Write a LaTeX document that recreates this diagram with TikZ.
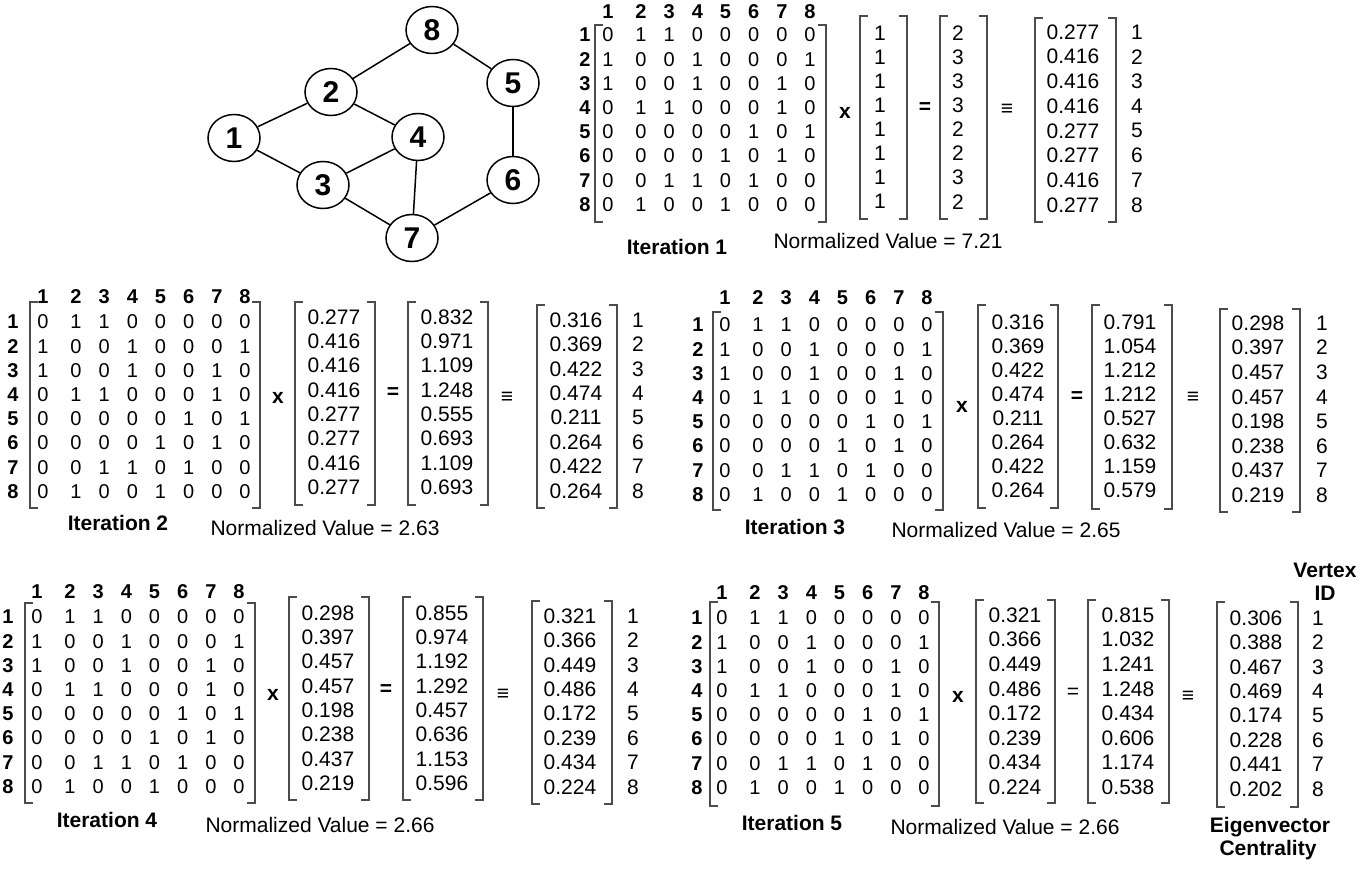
\documentclass[tikz,border=0pt]{standalone}
\usepackage{fontspec}
\setmainfont{Liberation Sans}
\usetikzlibrary{shapes.geometric}
\tikzset{
  mt/.style={inner sep=0pt, font=\fontsize{20}{23}\selectfont},
  vt/.style={inner sep=0pt, font=\fontsize{21}{24}\selectfont},
  hd/.style={inner sep=0pt, font=\fontsize{20}{23}\selectfont\bfseries},
  lbl/.style={inner sep=0pt, font=\fontsize{21}{24}\selectfont\bfseries},
  nv/.style={inner sep=0pt, font=\fontsize{21}{24}\selectfont},
  op/.style={inner sep=0pt, font=\fontsize{21}{24}\selectfont\bfseries},
  opr/.style={inner sep=0pt, font=\fontsize{21}{24}\selectfont},
  br/.style={draw=black!70, line width=1.4pt},
  vert/.style={ellipse, draw, line width=1.5pt, minimum width=52pt, minimum height=47pt, inner sep=0pt, font=\fontsize{30}{32}\selectfont\bfseries},
  gedge/.style={line width=1.5pt}
}
\newcommand\brk[4]{%
  \draw[br] (#1+8,#3) -- (#1,#3) -- (#1,#4) -- (#1+8,#4);
  \draw[br] (#2-8,#3) -- (#2,#3) -- (#2,#4) -- (#2-8,#4);}
\newcommand\adjm[9]{%
  \foreach \ci in {1,...,8}{%
    \pgfmathsetmacro\xx{#3+ifthenelse(\ci==1,0,33+(\ci-2)*28.17)}%
    \node[hd] (#1-h\ci) at (\xx,#4) {\ci};}%
  \foreach \rv [count=\ri] in {{0,1,1,0,0,0,0,0},{1,0,0,1,0,0,0,1},{1,0,0,1,0,0,1,0},{0,1,1,0,0,0,1,0},{0,0,0,0,0,1,0,1},{0,0,0,0,1,0,1,0},{0,0,1,1,0,1,0,0},{0,1,0,0,1,0,0,0}}{%
    \pgfmathsetmacro\yy{#5+(\ri-1)*24.2}%
    \node[hd] (#1-r\ri) at (#2,\yy) {\ri};
    \foreach \v [count=\ci] in \rv {%
      \pgfmathsetmacro\xx{#3+ifthenelse(\ci==1,0,33+(\ci-2)*28.17)}%
      \node[mt] (#1-\ri-\ci) at (\xx,\yy) {\v};}}%
  \brk{#6}{#7}{#8}{#9}}
\newcommand\vecm[9]{%
  \foreach \v [count=\i] in {#9}{\node[vt] (#1-\i) at (#6,{#7+(\i-1)*#8}) {\v};}%
  \brk{#2}{#3}{#4}{#5}}
\newcommand\vlab[4]{%
  \foreach \i in {1,...,8}{\node[vt] (#1-\i) at (#2,{#3+(\i-1)*#4}) {\i};}}
\begin{document}
\begin{tikzpicture}[x=1pt,y=-1pt]
\useasboundingbox (0,0) rectangle (1363,877);
\fill[white] (0,0) rectangle (1363,877);
% graph
\node[vert] (g8) at (432,30) {8};
\node[vert] (g2) at (331,92) {2};
\node[vert] (g5) at (513,83) {5};
\node[vert] (g1) at (234,138) {1};
\node[vert] (g4) at (418,137) {4};
\node[vert] (g3) at (323,185) {3};
\node[vert] (g6) at (513,180) {6};
\node[vert] (g7) at (412,238) {7};
\draw[gedge] (g1) -- (g2);
\draw[gedge] (g1) -- (g3);
\draw[gedge] (g2) -- (g8);
\draw[gedge] (g2) -- (g4);
\draw[gedge] (g3) -- (g4);
\draw[gedge] (g3) -- (g7);
\draw[gedge] (g4) -- (g7);
\draw[gedge] (g8) -- (g5);
\draw[gedge] (g5) -- (g6);
\draw[gedge] (g6) -- (g7);
% Iteration 1
\adjm{a1}{585}{608}{12}{35}{595}{826}{25}{222}
\node[op] (x1) at (845,113) {x};
\node[op] (e1) at (925,108) {=};
\node[op] (q1) at (1007,110) {≡};
\vecm{u1}{860}{907}{16}{219}{880}{33}{24.1}{1,1,1,1,1,1,1,1}
\vecm{v1}{940}{987}{16}{219}{958}{33}{24.1}{2,3,3,3,2,2,3,2}
\vecm{w1}{1035}{1116}{18}{222}{1073}{32}{24.7}{0.277,0.416,0.416,0.416,0.277,0.277,0.416,0.277}
\vlab{l1}{1137}{32}{24.7}
\node[lbl] (it1) at (677,247) {Iteration 1};
\node[nv] (nv1) at (888,241) {Normalized Value = 7.21};
% Iteration 2
\adjm{a2}{13}{43}{297}{322}{30}{260}{302}{508}
\node[op] (x2) at (278,398) {x};
\node[op] (e2) at (393,393) {=};
\node[op] (q2) at (507,398) {≡};
\vecm{u2}{295}{375}{302}{505}{334}{317}{24.3}{0.277,0.416,0.416,0.416,0.277,0.277,0.416,0.277}
\vecm{v2}{408}{488}{302}{505}{447}{317}{24.3}{0.832,0.971,1.109,1.248,0.555,0.693,1.109,0.693}
\vecm{w2}{537}{617}{305}{508}{576}{320}{24.4}{0.316,0.369,0.422,0.474,0.211,0.264,0.422,0.264}
\vlab{l2}{638}{320}{24.4}
\node[lbl] (it2) at (118,523) {Iteration 2};
\node[nv] (nv2) at (325,528) {Normalized Value = 2.63};
% Iteration 3
\adjm{a3}{698}{725}{298}{325}{713}{943}{312}{510}
\node[op] (x3) at (962,407) {x};
\node[op] (e3) at (1077,397) {=};
\node[op] (q3) at (1193,398) {≡};
\vecm{u3}{978}{1058}{305}{508}{1018}{322}{24}{0.316,0.369,0.422,0.474,0.211,0.264,0.422,0.264}
\vecm{v3}{1092}{1172}{305}{509}{1130}{322}{24}{0.791,1.054,1.212,1.212,0.527,0.632,1.159,0.579}
\vecm{w3}{1220}{1300}{309}{512}{1258}{323}{24.6}{0.298,0.397,0.457,0.457,0.198,0.238,0.437,0.219}
\vlab{l3}{1322}{323}{24.6}
\node[lbl] (it3) at (795,527) {Iteration 3};
\node[nv] (nv3) at (1006,530) {Normalized Value = 2.65};
% Iteration 4
\adjm{a4}{8}{37}{592}{617}{25}{255}{603}{803}
\node[op] (x4) at (273,695) {x};
\node[op] (e4) at (386,690) {=};
\node[op] (q4) at (503,695) {≡};
\vecm{u4}{289}{369}{597}{800}{328}{613}{24.3}{0.298,0.397,0.457,0.457,0.198,0.238,0.437,0.219}
\vecm{v4}{403}{483}{597}{800}{442}{613}{24.3}{0.855,0.974,1.192,1.292,0.457,0.636,1.153,0.596}
\vecm{w4}{532}{612}{601}{804}{570}{616}{24.4}{0.321,0.366,0.449,0.486,0.172,0.239,0.434,0.224}
\vlab{l4}{633}{616}{24.4}
\node[lbl] (it4) at (107,820) {Iteration 4};
\node[nv] (nv4) at (320,825) {Normalized Value = 2.66};
% Iteration 5
\adjm{a5}{697}{722}{593}{618}{710}{939}{602}{806}
\node[op] (x5) at (958,697) {x};
\node[opr] (e5) at (1073,693) {=};
\node[opr] (q5) at (1188,697) {≡};
\vecm{u5}{976}{1055}{600}{803}{1015}{615}{24.6}{0.321,0.366,0.449,0.486,0.172,0.239,0.434,0.224}
\vecm{v5}{1088}{1169}{600}{803}{1128}{615}{24.6}{0.815,1.032,1.241,1.248,0.434,0.606,1.174,0.538}
\vecm{w5}{1217}{1298}{602}{807}{1256}{618}{24.4}{0.306,0.388,0.467,0.469,0.174,0.228,0.441,0.202}
\vlab{l5}{1318}{618}{24.4}
\node[lbl] (it5) at (792,823) {Iteration 5};
\node[nv] (nv5) at (1005,827) {Normalized Value = 2.66};
\node[lbl] (vx) at (1325,570) {Vertex};
\node[lbl] (vid) at (1325,593) {ID};
\node[lbl] (ec1) at (1270,827) {Eigenvector};
\node[lbl] (ec2) at (1268,850) {Centrality};
\end{tikzpicture}
\end{document}
